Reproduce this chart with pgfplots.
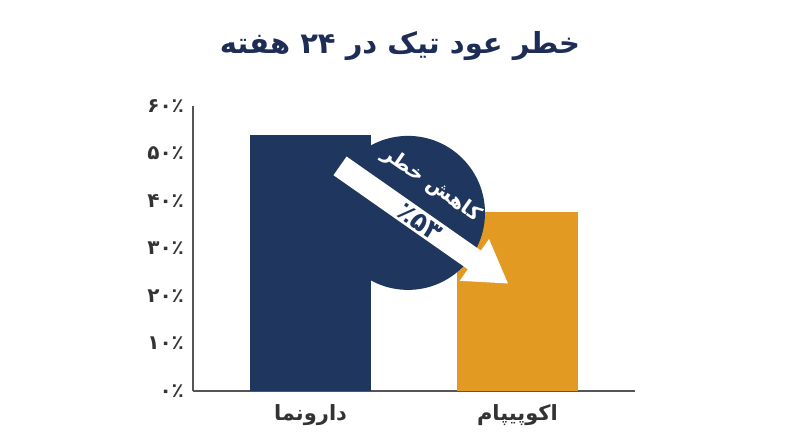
\documentclass[border=0pt]{standalone}
\usepackage{pgfplots}
\pgfplotsset{compat=1.18}
\usepackage{fontspec}
\TeXXeTstate=1
\newfontfamily\fa[Script=Arabic]{DejaVu Sans}
\definecolor{navy}{HTML}{1F365E}
\definecolor{amber}{HTML}{E39A22}
\definecolor{titleblue}{HTML}{1E2D55}
\definecolor{axisgray}{HTML}{555555}
\definecolor{labelgray}{HTML}{333333}
\newcommand{\rl}[1]{\beginR #1\endR}

\begin{document}
\begin{tikzpicture}
\path[use as bounding box] (0,0) rectangle (400pt,223.5pt);

\node[font=\fa\bfseries\fontsize{14.5}{17}\selectfont, text=titleblue]
  at (200pt,200.5pt) {\rl{خطر عود تیک در ۲۴ هفته}};

\begin{axis}[
    at={(96.5pt,28pt)}, anchor=south west,
    scale only axis,
    width=221pt, height=142.5pt,
    xmin=-0.568, xmax=1.568,
    ymin=0, ymax=60,
    enlargelimits=false,
    axis lines=left,
    axis line style={-, draw=axisgray, line width=0.75pt},
    xtick={0,1},
    xticklabels={\rl{دارونما}, \rl{اکوپیپام}},
    ytick={0,10,20,30,40,50,60},
    yticklabels={\rl{۰٪}, \rl{۱۰٪}, \rl{۲۰٪}, \rl{۳۰٪}, \rl{۴۰٪}, \rl{۵۰٪}, \rl{۶۰٪}},
    major tick length=0pt,
    tick style={draw=none},
    yticklabel style={font=\fa\bfseries\fontsize{10}{11}\selectfont, text=labelgray, xshift=-1pt},
    xticklabel style={font=\fa\bfseries\fontsize{10.5}{12}\selectfont, text=labelgray, yshift=-3pt},
    ybar, bar width=60.5pt,
    clip=false,
  ]
  \addplot[fill=navy, draw=none, bar shift=0pt] coordinates {(0,54)};
  \addplot[fill=amber, draw=none, bar shift=0pt] coordinates {(1,37.7)};
  \coordinate (C) at (axis cs:0.471,37.5);
  \coordinate (S) at (axis cs:0.1425,47.4);
  \coordinate (T1) at (axis cs:0.585,43.4);
  \coordinate (T2) at (axis cs:0.529,35.6);
\end{axis}

\fill[navy] (C) circle[radius=38.5pt];
\begin{scope}[shift={(S)}, rotate=-35]
  \fill[white] (0,-5.7pt) -- (82pt,-5.7pt) -- (82pt,-12.75pt) -- (102.5pt,0)
    -- (82pt,12.75pt) -- (82pt,5.7pt) -- (0,5.7pt) -- cycle;
\end{scope}
\node[rotate=-35, inner sep=0pt, font=\fa\bfseries\fontsize{10}{11}\selectfont, text=white] at (T1) {\rl{کاهش خطر}};
\node[rotate=-35, inner sep=0pt, font=\fa\bfseries\fontsize{13}{13}\selectfont, text=navy] at (T2) {٪۵۳};
\end{tikzpicture}
\end{document}
